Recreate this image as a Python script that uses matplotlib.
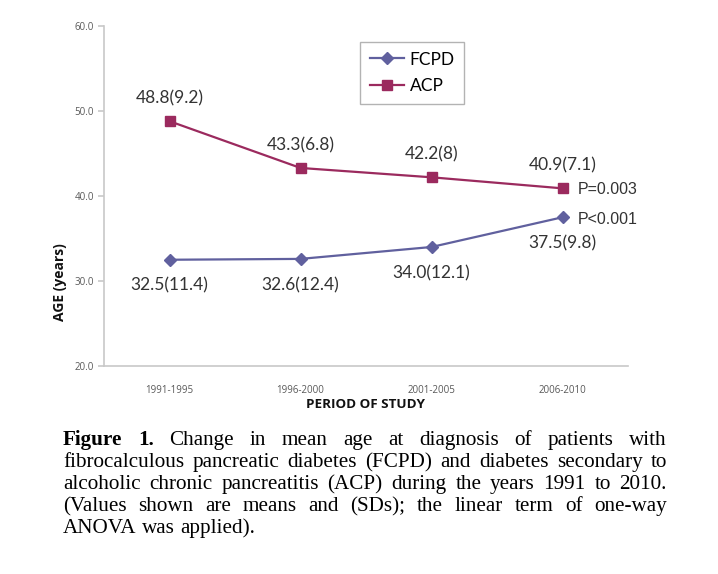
import matplotlib
matplotlib.use("Agg")
import matplotlib.pyplot as plt

# data
periods = ["1991-1995", "1996-2000", "2001-2005", "2006-2010"]
fcpd_mean = [32.5, 32.6, 34.0, 37.5]
fcpd_sd = ["11.4", "12.4", "12.1", "9.8"]
acp_mean = [48.8, 43.3, 42.2, 40.9]
acp_sd = ["9.2", "6.8", "8", "7.1"]
p_fcpd = "P<0.001"
p_acp = "P=0.003"

caption_lines = [
    "Change in mean age at diagnosis of patients with",
    "fibrocalculous pancreatic diabetes (FCPD) and diabetes secondary to",
    "alcoholic chronic pancreatitis (ACP) during the years 1991 to 2010.",
    "(Values shown are means and (SDs); the linear term of one-way",
    "ANOVA was applied).",
]

fcpd_color = "#60609E"
acp_color = "#9B2A5E"
lbl_font = "Lato"

fig = plt.figure(figsize=(7.18, 5.74), dpi=100)
W, H = 718, 574
ax = fig.add_axes([104 / W, 1 - 366 / H, 524 / W, 340 / H])

x = list(range(len(periods)))
ax.plot(x, fcpd_mean, color=fcpd_color, lw=1.6, marker="D", ms=6.5,
        mec=fcpd_color, mfc=fcpd_color, label="FCPD")
ax.plot(x, acp_mean, color=acp_color, lw=1.6, marker="s", ms=7.5,
        mec=acp_color, mfc=acp_color, label="ACP")

ax.set_xlim(-0.5, len(periods) - 0.5)
ax.set_ylim(20, 60)
ax.set_yticks([20, 30, 40, 50, 60])
ax.set_yticklabels(["%.1f" % v for v in [20, 30, 40, 50, 60]])
ax.set_xticks(x)
ax.set_xticklabels(periods)
for s in ["top", "right"]:
    ax.spines[s].set_visible(False)
for s in ["left", "bottom"]:
    ax.spines[s].set_color("#c8c8c8")
    ax.spines[s].set_linewidth(1.2)
ax.tick_params(axis="y", colors="#c8c8c8", length=4, width=1.2, labelsize=7,
               labelcolor="#595959", pad=3)
ax.tick_params(axis="x", length=0, labelsize=7, labelcolor="#595959", pad=14)
for t in ax.get_xticklabels() + ax.get_yticklabels():
    t.set_fontfamily("Open Sans")

# value labels
for i in x:
    ax.annotate("%.1f(%s)" % (acp_mean[i], acp_sd[i]), (i, acp_mean[i]),
                xytext=(0, 23), textcoords="offset pixels", ha="center",
                va="center", fontsize=12.5, color="#333333", family=lbl_font)
    ax.annotate("%.1f(%s)" % (fcpd_mean[i], fcpd_sd[i]), (i, fcpd_mean[i]),
                xytext=(0, -26), textcoords="offset pixels", ha="center",
                va="center", fontsize=12.5, color="#333333", family=lbl_font)
ax.annotate(p_acp, (x[-1], acp_mean[-1]), xytext=(15, -1),
            textcoords="offset pixels", ha="left", va="center", fontsize=11.5,
            color="#333333", family="Liberation Sans")
ax.annotate(p_fcpd, (x[-1], fcpd_mean[-1]), xytext=(15, -2),
            textcoords="offset pixels", ha="left", va="center", fontsize=11.5,
            color="#333333", family="Liberation Sans")

fig.text(366 / W, 1 - 405 / H, "PERIOD OF STUDY", ha="center", va="center",
         fontsize=9.7, fontweight="bold", family="Open Sans", color="#111111")
fig.text(60 / W, 1 - 282 / H, "AGE (years)", ha="center", va="center",
         rotation=90, fontsize=10, fontweight="bold", family="Open Sans",
         color="#111111")

leg = ax.legend(loc="upper left", bbox_to_anchor=((360 - 104) / 524, (366 - 42) / 340),
                frameon=True, fancybox=False, edgecolor="#a0a0a0",
                prop={"family": lbl_font, "size": 12.5}, handlelength=2.0,
                handletextpad=0.3, borderpad=0.55, labelspacing=0.6,
                borderaxespad=0)
leg.get_frame().set_linewidth(1.0)

# caption, justified
left, right = 63, 667
baselines = [445, 467, 489, 511, 533]
cap_size = 15.2
renderer = fig.canvas.get_renderer()


def text_w(s, weight="normal"):
    t = fig.text(0, 0, s, fontsize=cap_size, family="Liberation Serif",
                 fontweight=weight)
    w = t.get_window_extent(renderer).width
    t.remove()
    return w


for k, line in enumerate(caption_lines):
    words = []
    if k == 0:
        words += [("Figure", "bold"), ("1.", "bold")]
    words += [(w, "normal") for w in line.split()]
    widths = [text_w(w, wt) for w, wt in words]
    if k == len(caption_lines) - 1:
        gap = text_w("a b") - text_w("ab")
    else:
        gap = (right - left - sum(widths)) / (len(words) - 1)
    xpos = left
    for (w, wt), wd in zip(words, widths):
        fig.text(xpos / W, 1 - baselines[k] / H, w, fontsize=cap_size,
                 family="Liberation Serif", fontweight=wt, va="baseline",
                 ha="left", color="black")
        xpos += wd + gap

fig.savefig("out.png", dpi=100)
